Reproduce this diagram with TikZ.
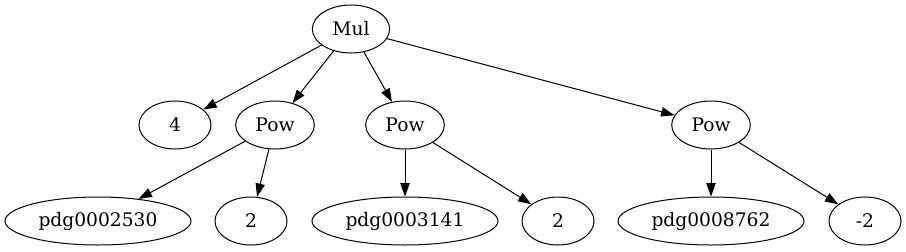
\documentclass[tikz,border=0pt]{standalone}
\usepackage{fontspec}
\setmainfont{DejaVu Serif}
\usepackage{tikz}
\usetikzlibrary{arrows.meta,shapes.geometric}

\begin{document}
\begin{tikzpicture}[
  x=0.75pt, y=-0.75pt,
  every node/.style={font=\fontsize{14}{16}\selectfont},
  ell/.style={draw, ellipse, line width=0.75pt, inner sep=0pt,
              minimum height=36pt, minimum width=54pt},
  opnode/.style={ell, minimum width=59pt},
  sym/.style={ell, minimum width=139.5pt},
  edge/.style={-{Triangle[length=10pt, width=7pt]}, line width=0.75pt}]

\useasboundingbox (0,0) rectangle (906,251);

% ================= root and first level ===================================
\node[opnode, minimum width=58pt] (mul) at (351,29) {Mul};
\node[ell]    (four) at (175,125) {4};
\node[opnode] (powA) at (275,125) {Pow};
\node[opnode] (powB) at (405,125) {Pow};
\node[opnode] (powC) at (711,125) {Pow};

% ================= leaves =================================================
\node[sym] (pdgA) at (98,221)  {pdg0002530};
\node[ell] (twoA) at (251,221) {2};
\node[sym] (pdgB) at (405,221) {pdg0003141};
\node[ell] (twoB) at (558,221) {2};
\node[sym] (pdgC) at (711,221) {pdg0008762};
\node[ell] (negC) at (865,221) {-2};

\foreach \a/\b in {mul/four, mul/powA, mul/powB, mul/powC,
                   powA/pdgA, powA/twoA, powB/pdgB, powB/twoB,
                   powC/pdgC, powC/negC}
  {\draw[edge] (\a) -- (\b);}

\end{tikzpicture}
\end{document}
